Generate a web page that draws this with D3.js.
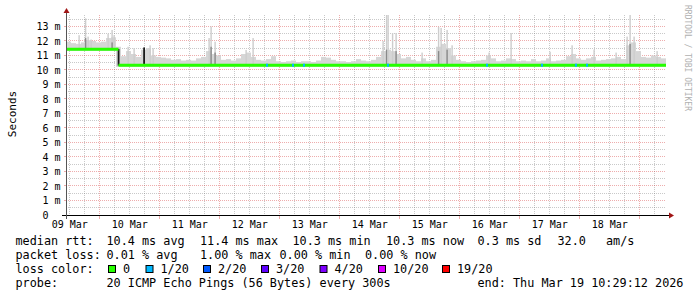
<!DOCTYPE html>
<html>
<head>
<meta charset="utf-8">
<script src="https://cdn.jsdelivr.net/npm/d3@7"></script>
<style>
  body { margin: 0; background: #fff; }
  svg { display: block; }
  text { font-family: "DejaVu Sans Mono", monospace; fill: #000; }
</style>
</head>
<body>
<svg id="chart" width="697" height="297"></svg>
<script>
// time window (10 days ending at the probe time)
const startTime = new Date(2026, 2, 9, 10, 29, 12);
const endTime = new Date(2026, 2, 19, 10, 29, 12);

// median rtt (ms) - change points in hours from start
const medianHours = [0, 21, 240];
const medianValues = [11.43, 10.33];

// smoke body top (ms), one value per 2 hour bucket
const bucketHours = 2;
const smokeBody = [
  11.95, 11.85, 11.8, 11.9, 12.05, 12.0, 11.9, 11.95, 12.2, 12.25,
  11.6, 10.95, 11.3, 11.1, 10.9, 11.4, 11.5, 11.0, 10.9, 10.85,
  10.8, 10.7, 10.75, 10.65, 10.7, 10.65, 10.8, 10.9, 11.3, 11.1,
  11.0, 10.7, 10.75, 10.65, 10.8, 11.1, 11.2, 10.9, 10.7, 10.65,
  10.75, 10.95, 10.6, 10.55, 10.6, 10.65, 10.55, 10.6, 10.6, 10.55,
  10.65, 10.9, 10.85, 10.7, 10.6, 10.6, 10.55, 10.6, 10.75, 10.65,
  10.6, 10.7, 10.9, 11.3, 11.4, 11.3, 11.1, 10.8, 10.9, 10.7,
  10.6, 10.8, 10.6, 10.7, 11.6, 11.8, 11.5, 11.0, 10.7, 10.6,
  10.55, 10.6, 10.65, 10.7, 11.0, 10.8, 10.6, 10.65, 10.8, 10.75,
  10.6, 10.65, 10.6, 10.75, 10.6, 10.65, 10.8, 10.6, 10.65, 10.7,
  10.95, 11.1, 10.8, 10.7, 10.8, 10.9, 10.65, 10.7, 10.75, 10.8,
  10.9, 10.75, 11.7, 11.9, 11.3, 10.9, 10.85, 11.0, 10.9, 10.8
];

// single smoke spikes: hour, top (ms), top of dark stem (0 = none)
const spikeHours = [5.2, 7.8, 8.8, 10, 16.8, 18.4, 19.2, 24.8, 27.2, 33.6, 34.8,
  57.2, 58, 59.6, 72, 74.8, 126.8, 128.2, 128.8, 130.6, 132, 142.4,
  149, 150, 152.4, 154.4, 169.2, 178, 193.6, 202.4, 211.2, 220,
  224.4, 225.6, 227.2, 236.4];
const spikeTops = [12.4, 13.56, 12.3, 12.1, 12.5, 12.76, 12.4, 11.6, 11.5, 11.7, 11.5,
  12.2, 13.0, 11.95, 11.38, 12.2, 12.0, 13.79, 13.79, 12.55, 12.55, 11.2,
  12.97, 12.9, 12.76, 11.7, 11.2, 12.55, 11.26, 11.7, 11.4, 11.2,
  12.3, 13.79, 12.3, 11.3];
const spikeDark = [0, 12.2, 0, 0, 0, 11.9, 0, 0, 0, 0, 0,
  0, 11.6, 11.2, 0, 0, 0, 11.4, 0, 0, 11.3, 0,
  11.3, 0, 11.4, 0, 0, 0, 0, 0, 0, 0,
  0, 11.8, 0, 0];

// dark vertical smoke where the median jumps
const jumpHours = [21, 31.2];
const jumpLow = [10.3, 10.3];
const jumpHigh = [11.45, 11.55];

// hours with 1/20 packet loss
const lossHours = [80, 90.4, 94.8, 128.4, 168, 190, 203.6, 208];

// y axis
const yMax = 13.79;
const yTicks = d3.range(0, 14);

// legend
const lossLabels = ["0", "1/20", "2/20", "3/20", "4/20", "10/20", "19/20"];
const lossColors = ["#26ff00", "#00b8ff", "#0059ff", "#5e00ff", "#7e00ff", "#dd00ff", "#ff0000"];
const rttItems = ["median rtt:", "10.4 ms avg", "11.4 ms max", "10.3 ms min", "10.3 ms now", "0.3 ms sd", "32.0", "am/s"];
const lossItems = ["packet loss:", "0.01 % avg", "1.00 % max", "0.00 % min", "0.00 % now"];
const probeItems = ["probe:", "20 ICMP Echo Pings (56 Bytes) every 300s", "end: Thu Mar 19 10:29:12 2026"];

// ---- layout
const svg = d3.select("#chart");
const plotLeft = 66, plotRight = 666, plotTop = 15, plotBottom = 215;
const hour = 3600 * 1000;
const at = h => new Date(+startTime + h * hour);

const x = d3.scaleTime().domain([startTime, endTime]).range([plotLeft, plotRight]);
const y = d3.scaleLinear().domain([0, yMax]).range([plotBottom, plotTop]);

function medianAt(h) {
    let v = medianValues[0];
    medianHours.forEach((mh, i) => {
        if (i < medianValues.length && h >= mh) v = medianValues[i];
    });
    return v;
}

const minorCol = "rgba(120,120,120,0.4)";
const majorCol = "rgba(210,40,40,0.38)";

// grid
const grid = svg.append("g");
const px = v => Math.floor(v) + 0.5;

d3.range(0.5, yMax, 1).forEach(v => {
    grid.append("line")
        .attr("x1", plotLeft).attr("x2", plotRight)
        .attr("y1", px(y(v))).attr("y2", px(y(v)))
        .attr("stroke", minorCol).attr("stroke-dasharray", "1,1");
});
x.ticks(d3.timeHour.every(6)).filter(t => t.getHours() != 0).forEach(t => {
    grid.append("line")
        .attr("x1", px(x(t))).attr("x2", px(x(t)))
        .attr("y1", plotTop).attr("y2", plotBottom)
        .attr("stroke", minorCol).attr("stroke-dasharray", "1,1");
});
yTicks.filter(v => v > 0).forEach(v => {
    grid.append("line")
        .attr("x1", plotLeft).attr("x2", plotRight)
        .attr("y1", px(y(v))).attr("y2", px(y(v)))
        .attr("stroke", majorCol).attr("stroke-dasharray", "1,1");
    grid.append("line")
        .attr("x1", plotLeft - 2).attr("x2", plotLeft)
        .attr("y1", px(y(v))).attr("y2", px(y(v)))
        .attr("stroke", majorCol);
});
x.ticks(d3.timeDay.every(1)).forEach(t => {
    grid.append("line")
        .attr("x1", px(x(t))).attr("x2", px(x(t)))
        .attr("y1", plotTop).attr("y2", plotBottom)
        .attr("stroke", majorCol).attr("stroke-dasharray", "1,1");
    grid.append("line")
        .attr("x1", px(x(t))).attr("x2", px(x(t)))
        .attr("y1", plotBottom).attr("y2", plotBottom + 4)
        .attr("stroke", majorCol);
});

// smoke
const smoke = svg.append("g");
smokeBody.forEach((v, i) => {
    const h0 = i * bucketHours, h1 = h0 + bucketHours;
    const base = medianAt(h0 + bucketHours / 2) - 0.12;
    smoke.append("rect")
        .attr("x", x(at(h0)))
        .attr("width", x(at(h1)) - x(at(h0)))
        .attr("y", y(v))
        .attr("height", Math.max(0, y(base) - y(v)))
        .attr("fill", "#d6d6d6");
});
spikeHours.forEach((h, i) => {
    const base = medianAt(h);
    smoke.append("rect")
        .attr("x", x(at(h)) - 0.6).attr("width", 1.4)
        .attr("y", y(spikeTops[i]))
        .attr("height", y(base) - y(spikeTops[i]))
        .attr("fill", "#cdcdcd");
    if (spikeDark[i] > 0) {
        smoke.append("rect")
            .attr("x", x(at(h)) - 0.6).attr("width", 1.4)
            .attr("y", y(spikeDark[i]))
            .attr("height", y(base) - y(spikeDark[i]))
            .attr("fill", "#8a8a8a");
    }
});
jumpHours.forEach((h, i) => {
    smoke.append("rect")
        .attr("x", x(at(h)) - 0.8).attr("width", 1.8)
        .attr("y", y(jumpHigh[i]))
        .attr("height", y(jumpLow[i]) - y(jumpHigh[i]))
        .attr("fill", "#1a1a1a");
});

// median line
const line = d3.line().x(d => x(at(d[0]))).y(d => y(d[1]));
medianValues.forEach((v, i) => {
    svg.append("path")
        .attr("d", line([[medianHours[i], v], [medianHours[i + 1], v]]))
        .attr("fill", "none")
        .attr("stroke", lossColors[0])
        .attr("stroke-width", 3);
});
lossHours.forEach(h => {
    svg.append("path")
        .attr("d", line([[h, medianAt(h)], [h + 0.8, medianAt(h)]]))
        .attr("stroke", lossColors[1])
        .attr("stroke-width", 3);
});

// axes
svg.append("line")
    .attr("x1", plotLeft - 4).attr("x2", plotRight + 4)
    .attr("y1", plotBottom + 0.5).attr("y2", plotBottom + 0.5)
    .attr("stroke", "#000");
svg.append("line")
    .attr("x1", plotLeft + 0.5).attr("x2", plotLeft + 0.5)
    .attr("y1", plotBottom + 4).attr("y2", plotTop - 4)
    .attr("stroke", "#555");
svg.append("path")
    .attr("d", "M669,212.5L674,215.5L669,218.5Z")
    .attr("fill", "#a01515");
svg.append("path")
    .attr("d", "M63.5,13L66.5,8L69.5,13Z")
    .attr("fill", "#a01515");

// tick labels
yTicks.forEach(v => {
    svg.append("text")
        .attr("x", v == 0 ? 48.5 : 60.5)
        .attr("y", y(v) + 3.7)
        .attr("text-anchor", "end")
        .attr("font-size", "10px")
        .text(v == 0 ? "0" : v + " m");
});
const dayFmt = d3.timeFormat("%d %b");
d3.timeDay.range(d3.timeDay.floor(startTime), endTime).forEach(d => {
    const noon = d3.timeHour.offset(d, 12);
    if (noon < startTime || noon > endTime) return;
    svg.append("text")
        .attr("x", x(noon))
        .attr("y", 228)
        .attr("text-anchor", "middle")
        .attr("font-size", "10px")
        .text(dayFmt(noon));
});

svg.append("text")
    .attr("transform", "translate(15.5,114) rotate(-90)")
    .attr("text-anchor", "middle")
    .attr("font-size", "11px")
    .text("Seconds");

svg.append("text")
    .attr("transform", "translate(685,5) rotate(90)")
    .attr("font-size", "8px")
    .style("fill", "#b0b0b0")
    .text("RRDTOOL / TOBI OETIKER");

// legend
const legendFont = "11.8px";
function legendRow(items, xs, yBase) {
    items.forEach((t, i) => {
        svg.append("text")
            .attr("x", xs[i]).attr("y", yBase)
            .attr("font-size", legendFont)
            .style("white-space", "pre")
            .text(t);
    });
}
legendRow(rttItems, [15.5, 106.5, 200, 292.5, 386, 477.5, 557.5, 606], 245);
legendRow(lossItems, [15.5, 106.5, 200, 279.5, 365], 259);
legendRow(["loss color:"], [15.5], 272.5);
legendRow(probeItems, [15.5, 106.5, 477.5], 286.5);

const swatchX = [108.5, 146, 203.5, 261.5, 320, 378.5, 442.5];
lossLabels.forEach((lab, i) => {
    svg.append("rect")
        .attr("x", swatchX[i]).attr("y", 265.5)
        .attr("width", 7).attr("height", 7)
        .attr("fill", lossColors[i])
        .attr("stroke", "#000");
    svg.append("text")
        .attr("x", swatchX[i] + 14.5).attr("y", 272.5)
        .attr("font-size", legendFont)
        .text(lab);
});
</script>
</body>
</html>
